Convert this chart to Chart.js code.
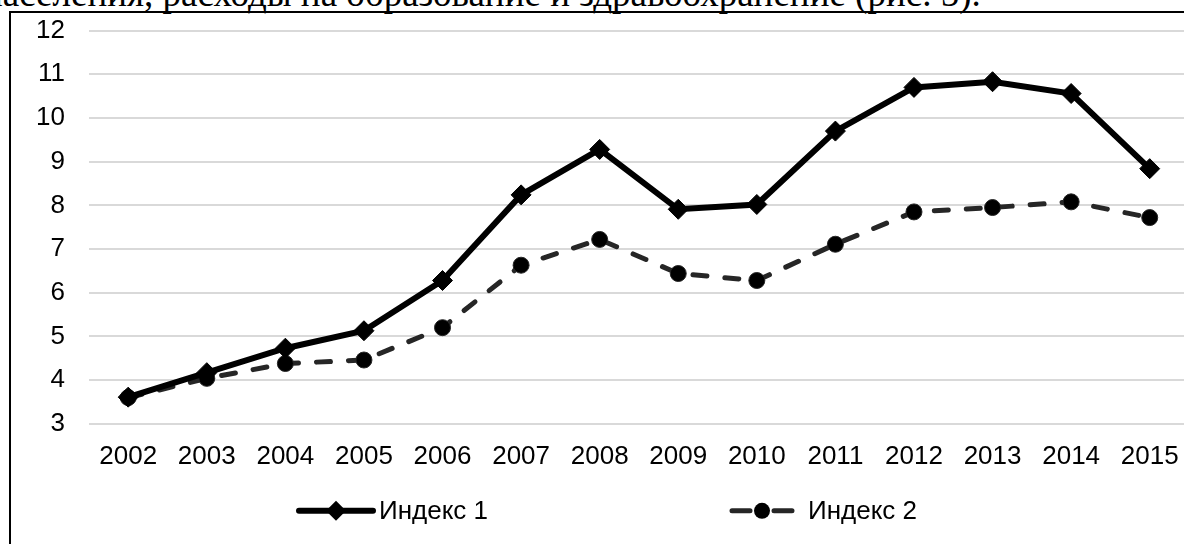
<!DOCTYPE html>
<html>
<head>
<meta charset="utf-8">
<script src="https://cdn.jsdelivr.net/npm/chart.js@4/dist/chart.umd.min.js"></script>
<style>
  html, body { margin: 0; padding: 0; width: 1184px; height: 544px; overflow: hidden; background: #fff; }
  #header { position: absolute; left: -17px; top: -24px; font-family: "Liberation Serif", serif; font-size: 37px; line-height: 36px; color: #000; white-space: nowrap; }
  #frame { position: absolute; left: 9px; top: 11px; width: 1300px; height: 700px; border-left: 2px solid #000; border-top: 2px solid #000; }
  #wrap { position: absolute; left: 0; top: -9px; width: 1200px; height: 569px; }
</style>
</head>
<body>
<div id="header">населения, расходы на образование и здравоохранение (рис. 5).</div>
<div id="frame"></div>
<div id="wrap"><canvas id="chart"></canvas></div>
<script>
// donnees
var years = ['2002', '2003', '2004', '2005', '2006', '2007', '2008', '2009', '2010', '2011', '2012', '2013', '2014', '2015'];
var index1 = [3.61, 4.17, 4.73, 5.13, 6.28, 8.24, 9.28, 7.91, 8.02, 9.70, 10.70, 10.83, 10.56, 8.84];
var index2 = [3.60, 4.04, 4.38, 4.46, 5.20, 6.63, 7.22, 6.44, 6.28, 7.11, 7.85, 7.95, 8.08, 7.72];
var seriesNames = ['Индекс 1', 'Индекс 2'];
var yTicks = [3, 12, 1]; // min, max, pas

var font = { family: 'Liberation Sans', size: 26 };

// legende dessinee a la main (trait + marqueur comme dans Excel)
var legendPlugin = {
    id: 'legendLines',
    afterDraw: function (chart, args, opts) {
        var ctx = chart.ctx;
        var y = chart.chartArea.bottom + opts.offsetY;
        ctx.save();
        ctx.font = font.size + 'px ' + font.family;
        ctx.textBaseline = 'middle';
        ctx.fillStyle = '#000';

        // Индекс 1
        var it = opts.items[0];
        var ds = chart.data.datasets[0];
        ctx.strokeStyle = ds.borderColor;
        ctx.lineWidth = ds.borderWidth;
        ctx.lineCap = 'round';
        ctx.beginPath();
        ctx.moveTo(it.x, y);
        ctx.lineTo(it.x + it.w, y);
        ctx.stroke();
        var cx = it.x + it.w / 2;
        var r = ds.pointRadius;
        ctx.fillStyle = ds.pointBackgroundColor;
        ctx.beginPath();
        ctx.moveTo(cx, y - r);
        ctx.lineTo(cx + r, y);
        ctx.lineTo(cx, y + r);
        ctx.lineTo(cx - r, y);
        ctx.closePath();
        ctx.fill();
        ctx.fillStyle = '#000';
        ctx.fillText(ds.label, it.x + it.w + it.gap, y + 1);

        // Индекс 2
        it = opts.items[1];
        ds = chart.data.datasets[1];
        ctx.strokeStyle = ds.borderColor;
        ctx.lineWidth = ds.borderWidth;
        ctx.beginPath();
        ctx.moveTo(it.x, y);
        ctx.lineTo(it.x + 18, y);
        ctx.moveTo(it.x + it.w - 18, y);
        ctx.lineTo(it.x + it.w, y);
        ctx.stroke();
        cx = it.x + it.w / 2;
        ctx.fillStyle = ds.pointBackgroundColor;
        ctx.beginPath();
        ctx.arc(cx, y, ds.pointRadius, 0, Math.PI * 2);
        ctx.fill();
        ctx.fillStyle = '#000';
        ctx.fillText(ds.label, it.x + it.w + it.gap, y + 1);
        ctx.restore();
    }
};

var ctx = document.getElementById('chart');
var myChart = new Chart(ctx, {
    type: 'line',
    data: {
        labels: years,
        datasets: [{
            label: seriesNames[0],
            data: index1,
            borderColor: '#000',
            borderWidth: 6,
            pointStyle: 'rectRot',
            pointRadius: 10,
            pointBackgroundColor: '#000',
            pointBorderColor: '#000',
            pointBorderWidth: 1,
            tension: 0,
            order: 1
        }, {
            label: seriesNames[1],
            data: index2,
            borderColor: '#262626',
            borderWidth: 5,
            borderDash: [14, 18],
            borderCapStyle: 'round',
            pointStyle: 'circle',
            pointRadius: 8,
            pointBackgroundColor: '#000',
            pointBorderColor: '#262626',
            pointBorderWidth: 1,
            tension: 0,
            order: 2
        }]
    },
    options: {
        responsive: true,
        maintainAspectRatio: false,
        animation: false,
        layout: { padding: { left: 12, right: 5, top: 5, bottom: 79 } },
        plugins: {
            legend: { display: false },
            tooltip: { enabled: false },
            legendLines: {
                offsetY: 87,
                items: [{ x: 299, w: 74, gap: 6 }, { x: 732, w: 60, gap: 16 }]
            }
        },
        scales: {
            x: {
                offset: true,
                grid: { display: false },
                border: { display: false },
                ticks: { color: '#000', font: font, padding: 9, maxRotation: 0 }
            },
            y: {
                min: yTicks[0],
                max: yTicks[1],
                grid: { color: '#d9d9d9', lineWidth: 2, drawTicks: false },
                border: { display: false },
                ticks: { stepSize: yTicks[2], color: '#000', font: font, padding: 24 }
            }
        }
    },
    plugins: [legendPlugin]
});
</script>
</body>
</html>
